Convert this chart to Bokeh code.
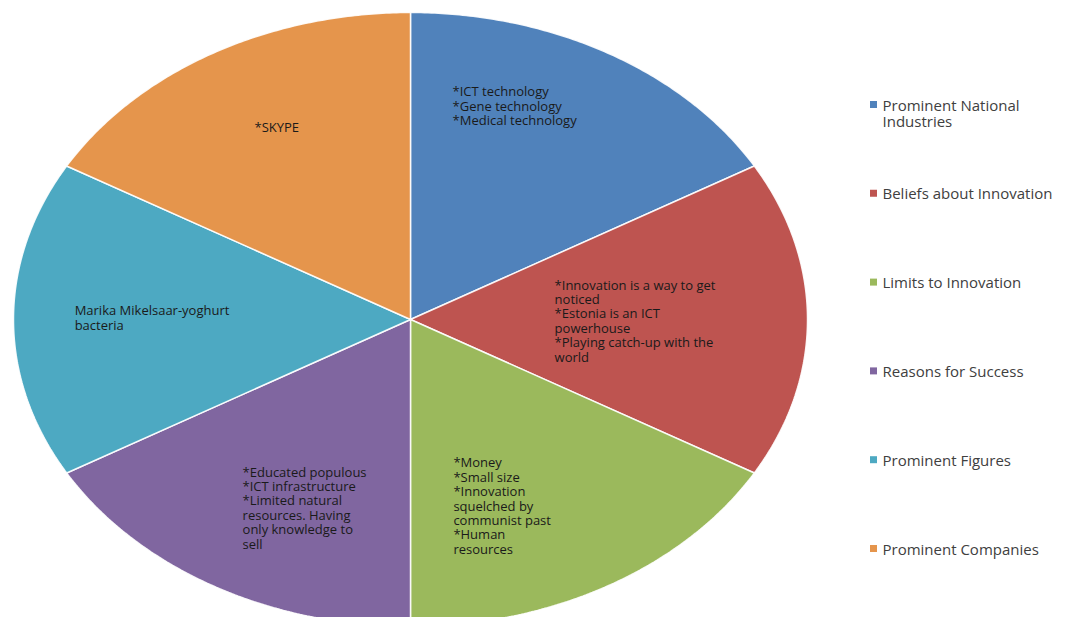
import numpy as np
from bokeh.plotting import figure
from bokeh.models import Range1d
from bokeh.core.properties import value
from bokeh.embed import file_html
from bokeh.resources import INLINE

# ---- data ----
categories = ["Prominent National\nIndustries", "Beliefs about Innovation", "Limits to Innovation",
              "Reasons for Success", "Prominent Figures", "Prominent Companies"]
values = [1, 1, 1, 1, 1, 1]
colors = ["#5082BB", "#BE5450", "#9BB95C", "#8066A0", "#4DA9C2", "#E5954C"]
slice_texts = [
    "*ICT technology\n*Gene technology\n*Medical technology",
    "*Innovation is a way to get\nnoticed\n*Estonia is an ICT\npowerhouse\n*Playing catch-up with the\nworld",
    "*Money\n*Small size\n*Innovation\nsquelched by\ncommunist past\n*Human\nresources",
    "*Educated populous\n*ICT infrastructure\n*Limited natural\nresources. Having\nonly knowledge to\nsell",
    "Marika Mikelsaar-yoghurt\nbacteria",
    "*SKYPE",
]

# ---- layout (pixels in plot space, y down) ----
W, H = 1058, 617
cx, cy, rx, ry = 410, 319, 397, 307
text_anchor_uv = [(0.106, 0.772), (0.363, 0.143), (0.108, -0.436),
                  (-0.423, -0.466), (-0.846, 0.059), (-0.393, 0.655)]

p = figure(width=W, height=H, output_backend="svg", toolbar_location=None,
           x_range=Range1d(0, W), y_range=Range1d(H, 0), min_border=0,
           background_fill_color="white", border_fill_color="white")
p.axis.visible = False
p.grid.visible = False
p.outline_line_color = None

total = float(sum(values))
start = np.pi / 2
xs, ys = [], []
for v in values:
    span = 2 * np.pi * v / total
    t = np.linspace(start, start - span, 120)
    xs.append(np.concatenate([[cx], cx + rx * np.cos(t), [cx]]).tolist())
    ys.append(np.concatenate([[cy], cy - ry * np.sin(t), [cy]]).tolist())
    start -= span

p.patches(xs, ys, fill_color=colors, line_color="white", line_width=1.5, line_alpha=0.9)

# slice labels
tx = [cx + u * rx for u, v in text_anchor_uv]
ty = [cy - v * ry for u, v in text_anchor_uv]
p.text(x=tx, y=ty, text=slice_texts, text_font=value("Open Sans"), text_font_size="13px",
       text_align="left", text_baseline="top", text_color="#1a1a1a", text_line_height=0.8)

# legend
leg_x, leg_y0, leg_dy = 873, 104, 88.8
ly = [leg_y0 + i * leg_dy for i in range(len(categories))]
p.scatter(x=[leg_x] * len(categories), y=ly, marker="square", size=7, fill_color=colors, line_color=None)
p.text(x=[leg_x + 9] * len(categories), y=[y - 10 for y in ly], text=categories,
       text_font=value("Open Sans"), text_font_size="15px", text_align="left", text_baseline="top",
       text_color="#404040", text_line_height=0.83)

open("out.html", "w").write(file_html(p, INLINE))
